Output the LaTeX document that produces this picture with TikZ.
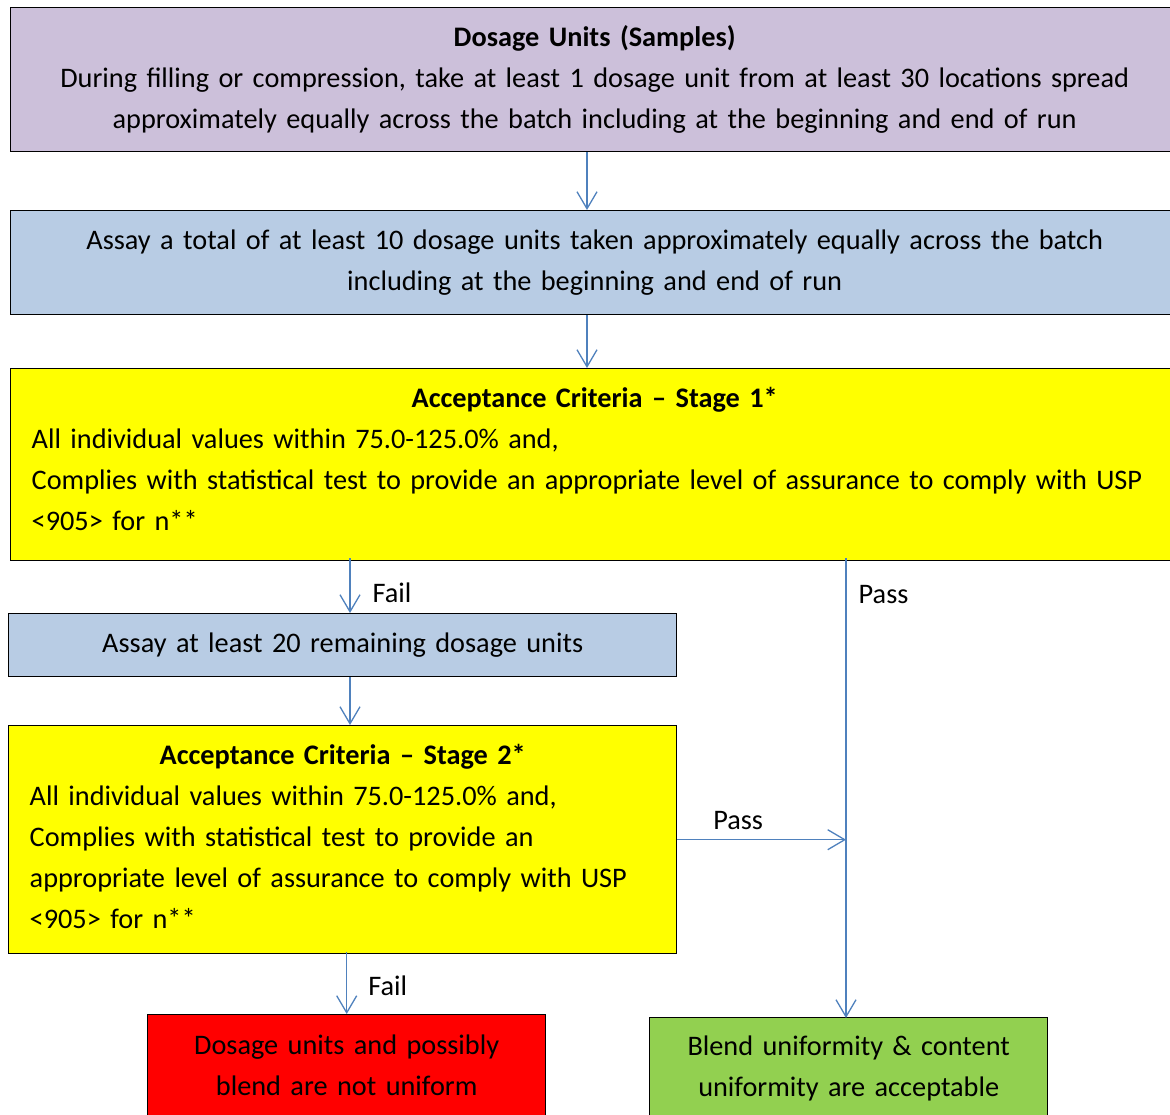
\documentclass[tikz,border=0pt]{standalone}
\usepackage{fontspec}
\setmainfont{Carlito}
\usetikzlibrary{arrows.meta,positioning}
\definecolor{boxlilac}{RGB}{204,192,218}
\definecolor{boxblue}{RGB}{184,204,228}
\definecolor{boxyellow}{RGB}{255,255,0}
\definecolor{boxred}{RGB}{255,0,0}
\definecolor{boxgreen}{RGB}{146,208,80}
\definecolor{flowblue}{RGB}{79,129,189}
\begin{document}
\begin{tikzpicture}[x=1pt, y=-1pt,
  box/.style={draw=black, line width=1.4pt, inner xsep=21pt, inner ysep=0pt,
    anchor=north west, font=\fontsize{28.3}{41}\selectfont},
  flow/.style={-{Straight Barb[length=17pt,width=20pt]}, flowblue, line width=1.3pt},
  lbl/.style={font=\fontsize{28.3}{41}\selectfont, text=black, inner sep=0pt}]
\clip (0,0) rectangle (1170,1114);
\fill[white] (0,0) rectangle (1170,1114);
% --- Sampling and first assay ---
\node[box, fill=boxlilac, text width=1126pt, minimum height=144pt, align=center]
  (samples) at (10,7) {\textbf{Dosage Units (Samples)}\\
  During filling or compression, take at least 1 dosage unit from at least 30 locations spread\\
  approximately equally across the batch including at the beginning and end of run};
\node[box, fill=boxblue, text width=1126pt, minimum height=104pt, align=center]
  (assay) at (10,210) {Assay a total of at least 10 dosage units taken approximately equally across the batch\\
  including at the beginning and end of run};
% --- Stage 1 ---
\node[box, fill=boxyellow, text width=1126pt, minimum height=192pt, align=left]
  (stage1) at (10,368) {\centerline{\bfseries Acceptance Criteria -- Stage 1*}
  All individual values within 75.0-125.0\% and,\\
  Complies with statistical test to provide an appropriate level of assurance to comply with USP\\
  <905> for n**\rule[-12pt]{0pt}{0pt}};
% --- Stage 2 ---
\node[box, fill=boxblue, text width=626pt, minimum height=63pt, align=center]
  (assay2) at (8,613) {Assay at least 20 remaining dosage units};
\node[box, fill=boxyellow, text width=626pt, minimum height=228pt, align=left]
  (stage2) at (8,725) {\centerline{\bfseries Acceptance Criteria -- Stage 2*}
  All individual values within 75.0-125.0\% and,\\
  Complies with statistical test to provide an\\
  appropriate level of assurance to comply with USP\\
  <905> for n**\rule[-6pt]{0pt}{0pt}};
% --- Outcomes ---
\node[box, fill=boxred, text width=356pt, minimum height=102pt, align=center]
  (notuniform) at (147,1014) {Dosage units and possibly\\ blend are not uniform};
\node[box, fill=boxgreen, text width=356pt, minimum height=102pt, align=center]
  (acceptable) at (649,1017) {Blend uniformity \& content\\ uniformity are acceptable};
% Connectors
\coordinate (spine) at (587,0);
\coordinate (failx) at (350,0);
\coordinate (passx) at (846,0);
\draw[flow] (samples.south -| spine) -- (assay.north -| spine);
\draw[flow] (assay.south -| spine) -- (stage1.north -| spine);
\draw[flow] ([yshift=3pt]stage1.south -| failx) -- (assay2.north -| failx)
  node[lbl, midway, right=22pt, yshift=-7pt] (fail1) {Fail};
\draw[flow] (assay2.south -| failx) -- (stage2.north -| failx);
\draw[flow] ([yshift=3pt]stage1.south -| passx) -- ([yshift=-1pt]acceptable.north -| passx)
  node[lbl, pos=0.07, right=12pt, yshift=-4pt] (pass1) {Pass};
\draw[flow] (stage2.east) -- (stage2.east -| passx)
  node[lbl, pos=0.36, above=9pt] (pass2) {Pass};
\draw[flow] ([yshift=2pt]stage2.south -| notuniform.north) -- (notuniform.north)
  node[lbl, midway, right=21pt, yshift=-3pt] (fail2) {Fail};
\end{tikzpicture}
\end{document}
